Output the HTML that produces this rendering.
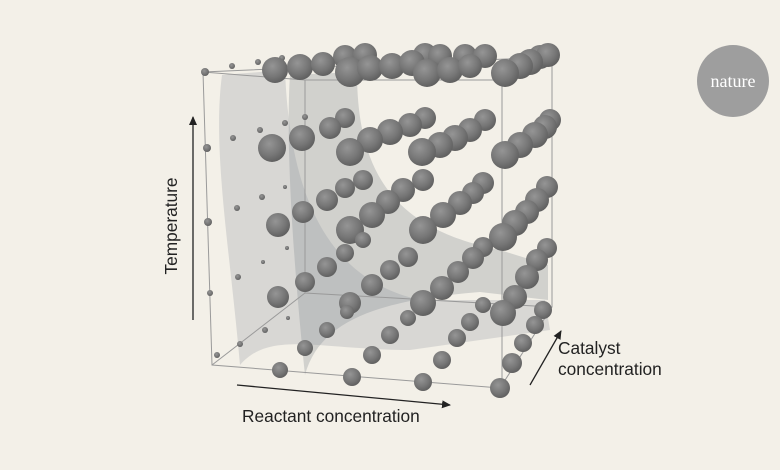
<!DOCTYPE html>
<html><head><meta charset="utf-8"><style>
html,body{margin:0;padding:0;background:#f3f0e8;}
svg{display:block}
</style></head><body>
<svg width="780" height="470" viewBox="0 0 780 470" xmlns="http://www.w3.org/2000/svg">
<defs>
<radialGradient id="g" cx="0.4" cy="0.35" r="0.7">
<stop offset="0" stop-color="#959595"/><stop offset="0.6" stop-color="#767676"/><stop offset="1" stop-color="#5c5c5c"/>
</radialGradient>
<marker id="ah" markerWidth="10" markerHeight="10" refX="8" refY="4" orient="auto" markerUnits="userSpaceOnUse"><path d="M0,0 L9,4 L0,8 Z" fill="#222"/></marker>
</defs>
<rect width="780" height="470" fill="#f3f0e8"/>
<path d="M222,75 L285,70 C290,200 330,280 420,300 L545,300 L550,330 L410,350 C320,350 270,330 240,365 C230,250 212,150 222,75 Z" fill="#9aa0a4" fill-opacity="0.3"/>
<path d="M290,75 L357,72 C357,180 400,230 500,250 L548,265 L548,300 L480,292 C380,300 320,320 305,375 C295,280 285,150 290,75 Z" fill="#8a9094" fill-opacity="0.32"/>
<g stroke="#9a9a9a" stroke-width="1" fill="none">
<path d="M203,72 L212,365 L500,388 L552,307 L552,57 L203,72"/>
<path d="M305,80 L305,293 L552,307 M305,293 L212,365 M502,80 L502,388 M305,80 L502,80 L552,57 M203,72 L305,80"/>
</g>
<g fill="url(#g)">
<circle cx="205" cy="72" r="4"/><circle cx="232" cy="66" r="3"/><circle cx="258" cy="62" r="3"/><circle cx="282" cy="58" r="3"/>
<circle cx="233" cy="138" r="3"/><circle cx="260" cy="130" r="3"/><circle cx="285" cy="123" r="3"/><circle cx="305" cy="117" r="3"/><circle cx="207" cy="148" r="4"/>
<circle cx="237" cy="208" r="3"/><circle cx="262" cy="197" r="3"/><circle cx="285" cy="187" r="2"/><circle cx="208" cy="222" r="4"/>
<circle cx="238" cy="277" r="3"/><circle cx="263" cy="262" r="2"/><circle cx="287" cy="248" r="2"/><circle cx="210" cy="293" r="3"/>
<circle cx="240" cy="344" r="3"/><circle cx="265" cy="330" r="3"/><circle cx="288" cy="318" r="2"/><circle cx="217" cy="355" r="3"/>
<circle cx="345" cy="57" r="12"/><circle cx="365" cy="55" r="12"/><circle cx="425" cy="55" r="12"/><circle cx="440" cy="56" r="12"/><circle cx="465" cy="56" r="12"/><circle cx="485" cy="56" r="12"/><circle cx="540" cy="57" r="12"/><circle cx="548" cy="55" r="12"/><circle cx="530" cy="62" r="13"/><circle cx="520" cy="66" r="13"/>
<circle cx="275" cy="70" r="13"/><circle cx="300" cy="67" r="13"/><circle cx="323" cy="64" r="12"/><circle cx="350" cy="72" r="15"/><circle cx="370" cy="68" r="13"/><circle cx="392" cy="66" r="13"/><circle cx="412" cy="63" r="13"/><circle cx="427" cy="73" r="14"/><circle cx="450" cy="70" r="13"/><circle cx="470" cy="66" r="12"/><circle cx="505" cy="73" r="14"/>
<circle cx="345" cy="118" r="10"/><circle cx="330" cy="128" r="11"/><circle cx="302" cy="138" r="13"/><circle cx="272" cy="148" r="14"/>
<circle cx="425" cy="118" r="11"/><circle cx="410" cy="125" r="12"/><circle cx="390" cy="132" r="13"/><circle cx="370" cy="140" r="13"/><circle cx="350" cy="152" r="14"/>
<circle cx="485" cy="120" r="11"/><circle cx="470" cy="130" r="12"/><circle cx="455" cy="138" r="13"/><circle cx="440" cy="145" r="13"/><circle cx="422" cy="152" r="14"/>
<circle cx="550" cy="120" r="11"/><circle cx="545" cy="127" r="12"/><circle cx="535" cy="135" r="13"/><circle cx="520" cy="145" r="13"/><circle cx="505" cy="155" r="14"/>
<circle cx="363" cy="180" r="10"/><circle cx="345" cy="188" r="10"/><circle cx="327" cy="200" r="11"/><circle cx="303" cy="212" r="11"/><circle cx="278" cy="225" r="12"/>
<circle cx="423" cy="180" r="11"/><circle cx="403" cy="190" r="12"/><circle cx="388" cy="202" r="12"/><circle cx="372" cy="215" r="13"/><circle cx="350" cy="230" r="14"/>
<circle cx="483" cy="183" r="11"/><circle cx="473" cy="193" r="11"/><circle cx="460" cy="203" r="12"/><circle cx="443" cy="215" r="13"/><circle cx="423" cy="230" r="14"/>
<circle cx="547" cy="187" r="11"/><circle cx="537" cy="200" r="12"/><circle cx="527" cy="212" r="12"/><circle cx="515" cy="223" r="13"/><circle cx="503" cy="237" r="14"/>
<circle cx="363" cy="240" r="8"/><circle cx="345" cy="253" r="9"/><circle cx="327" cy="267" r="10"/><circle cx="305" cy="282" r="10"/><circle cx="278" cy="297" r="11"/>
<circle cx="408" cy="257" r="10"/><circle cx="390" cy="270" r="10"/><circle cx="372" cy="285" r="11"/><circle cx="350" cy="303" r="11"/>
<circle cx="483" cy="247" r="10"/><circle cx="473" cy="258" r="11"/><circle cx="458" cy="272" r="11"/><circle cx="442" cy="288" r="12"/><circle cx="423" cy="303" r="13"/>
<circle cx="547" cy="248" r="10"/><circle cx="537" cy="260" r="11"/><circle cx="527" cy="277" r="12"/><circle cx="515" cy="297" r="12"/><circle cx="503" cy="313" r="13"/>
<circle cx="347" cy="312" r="7"/><circle cx="327" cy="330" r="8"/><circle cx="305" cy="348" r="8"/><circle cx="280" cy="370" r="8"/>
<circle cx="408" cy="318" r="8"/><circle cx="390" cy="335" r="9"/><circle cx="372" cy="355" r="9"/><circle cx="352" cy="377" r="9"/>
<circle cx="483" cy="305" r="8"/><circle cx="470" cy="322" r="9"/><circle cx="457" cy="338" r="9"/><circle cx="442" cy="360" r="9"/><circle cx="423" cy="382" r="9"/>
<circle cx="543" cy="310" r="9"/><circle cx="535" cy="325" r="9"/><circle cx="523" cy="343" r="9"/><circle cx="512" cy="363" r="10"/><circle cx="500" cy="388" r="10"/>
</g>
<line x1="193" y1="320" x2="193" y2="117" stroke="#222" stroke-width="1.3" marker-end="url(#ah)"/>
<line x1="237" y1="385" x2="450" y2="405" stroke="#222" stroke-width="1.3" marker-end="url(#ah)"/>
<line x1="530" y1="385" x2="561" y2="331" stroke="#222" stroke-width="1.3" marker-end="url(#ah)"/>
<g font-family="Liberation Sans, sans-serif" font-size="17.3" fill="#222">
<text transform="translate(177,226) rotate(-90)" text-anchor="middle">Temperature</text>
<text x="242" y="422">Reactant concentration</text>
<text x="558" y="354">Catalyst</text>
<text x="558" y="375">concentration</text>
</g>
<circle cx="733" cy="81" r="36" fill="#9e9e9e"/>
<text x="733" y="87" text-anchor="middle" font-family="Liberation Serif, serif" font-size="18" fill="#fff">nature</text>
</svg>
</body></html>
